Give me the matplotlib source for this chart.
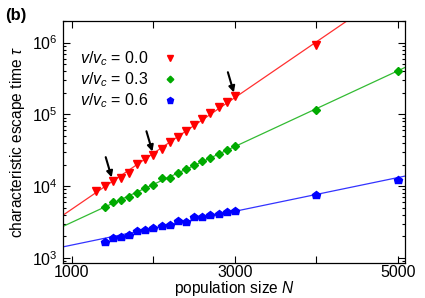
import numpy as np
import matplotlib
matplotlib.use('Agg')
import matplotlib.pyplot as plt
from matplotlib.ticker import FixedLocator, FuncFormatter, LogLocator

plt.rcParams['font.family'] = ['Liberation Sans', 'DejaVu Sans']
plt.rcParams['mathtext.fontset'] = 'custom'
plt.rcParams['mathtext.rm'] = 'Liberation Sans'
plt.rcParams['mathtext.it'] = 'Liberation Sans:italic'

# population sizes
N = [1300, 1400, 1500, 1600, 1700, 1800, 1900, 2000, 2100, 2200,
     2300, 2400, 2500, 2600, 2700, 2800, 2900, 3000, 4000, 5000]

# escape times (red has no point at 5000, it is off the top)
tau_00 = [8500, 10100, 11900, 13200, 15500, 20500, 23600, 27300, 32800, 41500,
          47800, 59000, 71000, 86000, 104000, 127600, 148500, 181500, 935000]
tau_03 = [5050, 5930, 6440, 7030, 8070, 9470, 10400, 12800, 13200,
          15200, 17300, 19600, 22300, 24800, 27900, 32100, 36200, 115800, 405600]
tau_06 = [1690, 1870, 1990, 2120, 2410, 2490, 2620, 2830, 2890,
          3320, 3180, 3700, 3700, 3950, 4070, 4380, 4530, 7420, 12240]

N_00 = N[:19]
N_03 = N[1:]
N_06 = N[1:]

labels = ['$v/v_c$ = 0.0', '$v/v_c$ = 0.3', '$v/v_c$ = 0.6']
arrow_N = [1500, 2000, 3000]

fig = plt.figure(figsize=(4.25, 2.98), dpi=100)
ax = fig.add_axes([0.148, 0.1174, 0.805, 0.812])

xmin, xmax = 889, 5090
xx = np.linspace(xmin, xmax, 200)

series = [
    (N_00, tau_00, 'v', '#ff0000', '#ff3030', 5.6),
    (N_03, tau_03, 'D', '#00aa00', '#33bb33', 4.2),
    (N_06, tau_06, 'p', '#0000ff', '#3333ff', 6.2),
]

for (n, t, mk, mc, lc, ms), lab in zip(series, labels):
    k, c = np.polyfit(n, np.log10(t), 1)
    ax.plot(xx, 10 ** (c + k * xx), color=lc, lw=0.9, zorder=2)
    ax.plot(n, t, linestyle='none', marker=mk, color=mc, ms=ms,
            mec=mc, label=lab, zorder=3)

# arrows on the red series
for a in arrow_N:
    y = tau_00[N_00.index(a)]
    ax.annotate('', xy=(a, y), xytext=(-5, 17), textcoords='offset points',
                arrowprops=dict(arrowstyle='-|>', color='k', lw=1.5,
                                mutation_scale=9, shrinkA=0, shrinkB=2.5))

ax.set_yscale('log')
ax.set_xlim(xmin, xmax)
ax.set_ylim(850, 2.0e6)

ax.xaxis.set_major_locator(FixedLocator([1000, 2000, 3000, 4000, 5000]))
ax.xaxis.set_major_formatter(FuncFormatter(
    lambda v, p: '%d' % v if v in (1000, 3000, 5000) else ''))
ax.yaxis.set_major_locator(LogLocator(base=10))
ax.yaxis.set_minor_locator(LogLocator(base=10, subs=np.arange(2, 10)))
ax.yaxis.set_minor_formatter(FuncFormatter(lambda v, p: ''))

ax.tick_params(which='both', direction='in', top=True, right=True,
               labelsize=11.5, width=0.8)
ax.tick_params(which='major', length=5)
ax.tick_params(which='minor', length=2.5)
ax.tick_params(axis='x', pad=1.5)
ax.tick_params(axis='y', pad=4)
for s in ax.spines.values():
    s.set_linewidth(0.9)

ax.set_xlabel('population size $N$', fontsize=11.2, labelpad=-1)
ax.set_ylabel(r'characteristic escape time $\tau$', fontsize=11.2, labelpad=3)

ax.legend(loc='upper left', frameon=False, markerfirst=False, numpoints=1,
          fontsize=11.5, handlelength=0.8, handletextpad=1.0,
          labelspacing=0.15, markerscale=0.8,
          bbox_to_anchor=(0.03, 0.91), borderaxespad=0)

fig.text(0.012, 0.933, '(b)', fontsize=12, fontweight='bold')

fig.savefig('out.png', dpi=100)
